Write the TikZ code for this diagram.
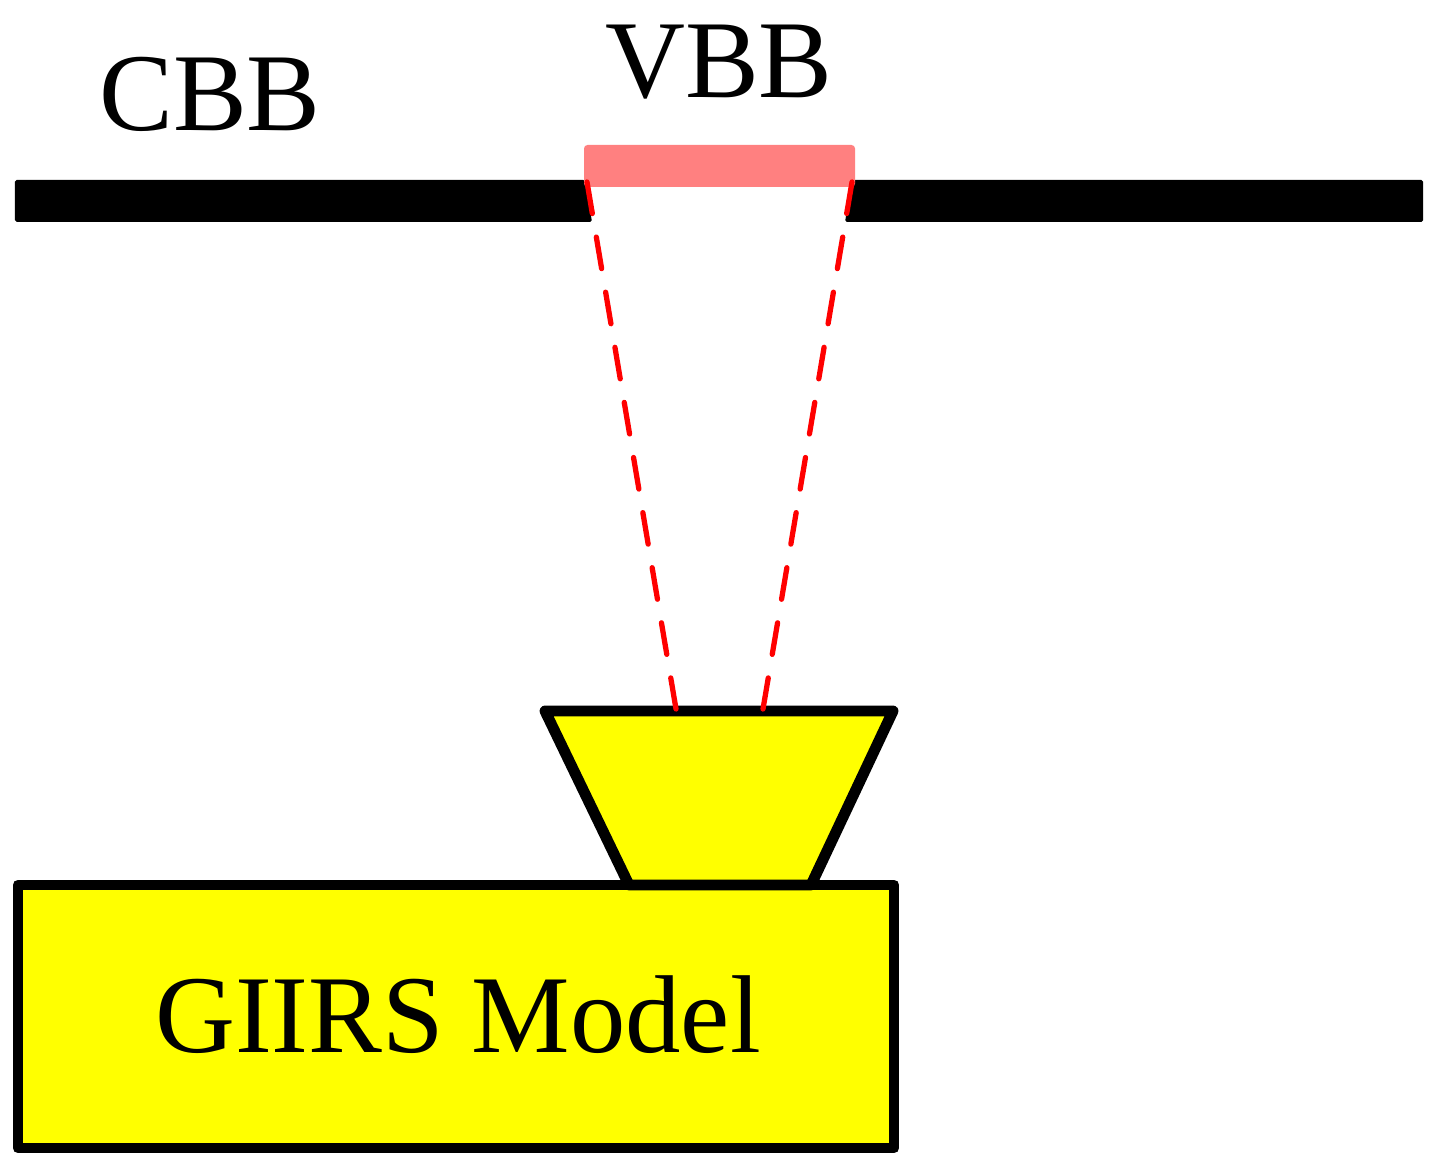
\documentclass[tikz,border=0pt]{standalone}
\usepackage{fontspec}
\setmainfont{Liberation Serif}
\usepackage{xcolor}
\definecolor{vbbpink}{RGB}{255,128,128}
\definecolor{boxyellow}{RGB}{255,255,0}
\tikzset{
  lbl/.style={anchor=base, font=\fontsize{31.5}{36}\selectfont},
  beam/.style={red, line width=1.5pt, line cap=round, dash pattern=on 9.1pt off 6.8pt},
  box/.style={draw=black, fill=boxyellow, line width=3.1pt, line join=round}
}

\begin{document}
\begin{tikzpicture}
\useasboundingbox (0,0) rectangle (14.33,11.75);

% bars
\fill[black, rounded corners=0.5pt] (0.15,9.95) -- (5.85,9.95) -- (5.92,9.53) -- (0.15,9.53) -- cycle;
\fill[black, rounded corners=0.5pt] (8.52,9.95) -- (14.23,9.95) -- (14.23,9.53) -- (8.45,9.53) -- cycle;
\fill[vbbpink, rounded corners=1pt] (5.84,9.88) rectangle (8.55,10.30);

\node[lbl] (cbb) at (2.10,10.44) {CBB};
\node[lbl] (vbb) at (7.19,10.77) {VBB};

% instrument
\draw[box] (0.18,0.27) rectangle (8.94,2.90);
\draw[box] (5.45,4.64) -- (8.93,4.64) -- (8.11,2.90) -- (6.29,2.90) -- cycle;
\node[lbl] (giirs) at (4.58,1.23) {GIIRS Model};

% field of view
\coordinate (fovL) at (5.87,9.93);
\coordinate (fovR) at (8.52,9.93);
\coordinate (eyeL) at (6.76,4.66);
\coordinate (eyeR) at (7.63,4.66);
\draw[beam] (fovL) -- (eyeL);
\draw[beam] (fovR) -- (eyeR);
\end{tikzpicture}
\end{document}
